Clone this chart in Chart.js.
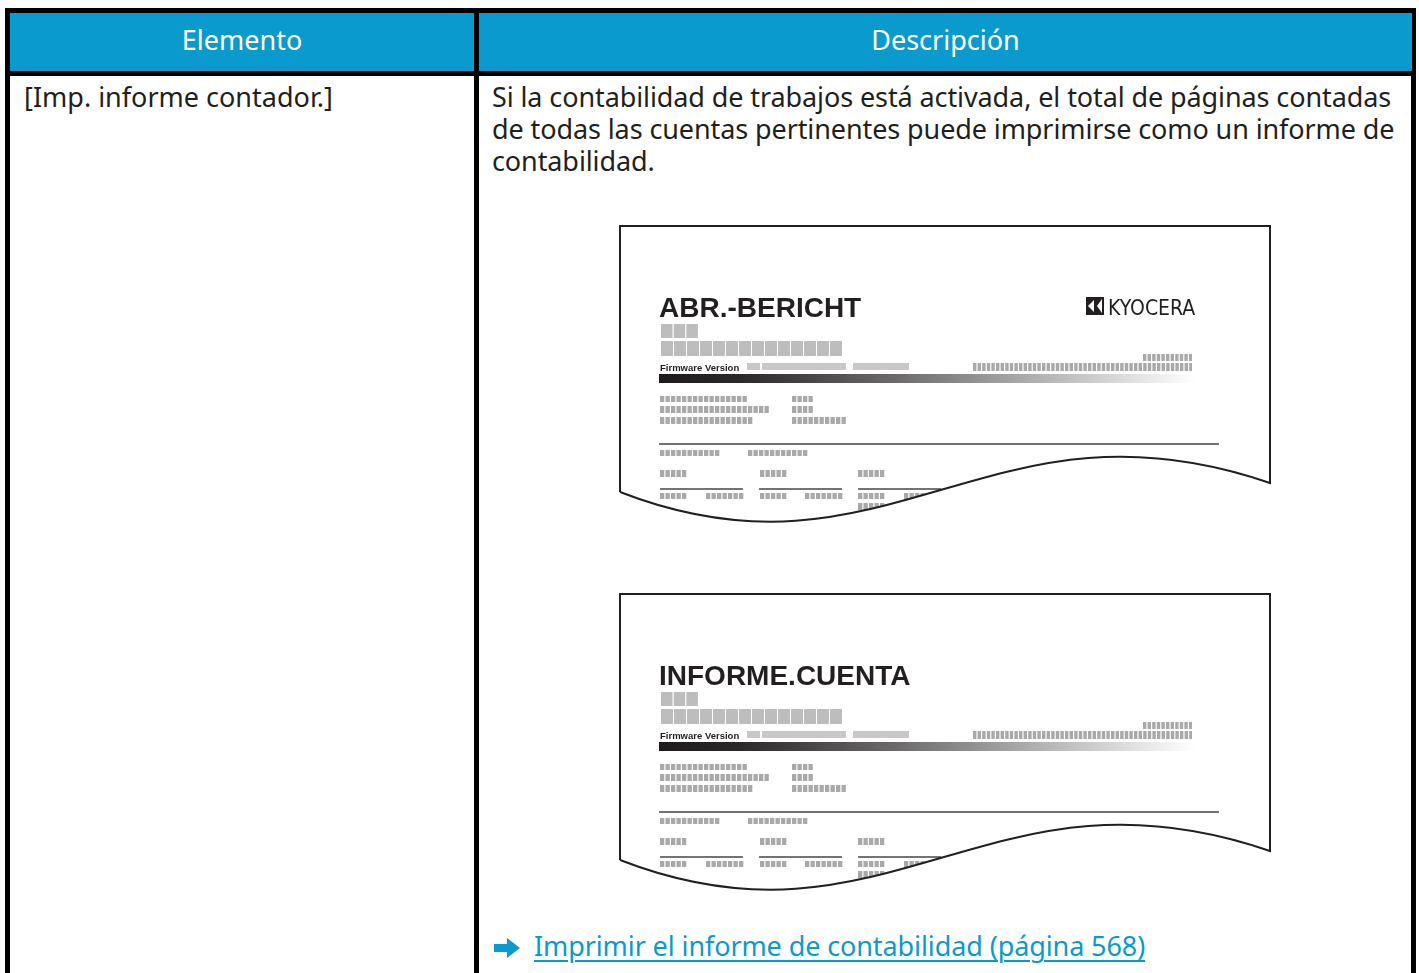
<!DOCTYPE html>
<html lang="es">
<head>
<meta charset="utf-8">
<title>Imp. informe contador</title>
<script src="https://cdn.jsdelivr.net/npm/chart.js@4.4.1/dist/chart.umd.min.js"></script>
<style>
  html, body { margin:0; padding:0; background:#fff; }
  body { width:1419px; height:973px; overflow:hidden; position:relative;
         font-family:"Noto Sans", "Open Sans", sans-serif; color:#231f20; }
  .frame { position:absolute; left:5px; top:8px; width:1401px; height:1000px;
           border:5px solid #000; border-bottom:none; }
  .divider { position:absolute; left:474px; top:8px; width:5px; height:1000px; background:#000; }
  .head { position:absolute; top:13px; height:58px; background:#0b9acd; color:#fff;
          font-size:27px; line-height:54px; text-align:center; }
  .headline { position:absolute; left:10px; top:71px; width:1402px; height:5px; background:#000; }
  .cell { position:absolute; font-size:27px; line-height:32px; }
  .link { position:absolute; left:494px; top:930px; font-size:27px; line-height:32px;
          color:#0b9acd; white-space:nowrap; }
  .link span { text-decoration:underline; text-underline-offset:4px; text-decoration-thickness:2px;
               margin-left:14px; letter-spacing:-0.1px; }
  canvas.report { position:absolute; left:600px; }
</style>
</head>
<body>
<div class="frame"></div>
<div class="divider"></div>
<div class="head" id="h0" style="left:10px;width:464px"></div>
<div class="head" id="h1" style="left:479px;width:933px"></div>
<div class="headline"></div>
<div class="cell" id="item" style="left:24px;top:81px;width:440px"></div>
<div class="cell" id="desc" style="left:492px;top:81px;width:912px;letter-spacing:-0.1px"></div>
<canvas class="report" id="report1" width="690" height="320" style="top:216px"></canvas>
<canvas class="report" id="report2" width="690" height="320" style="top:584px"></canvas>
<div class="link" id="link">
  <svg width="26" height="20" viewBox="0 0 26 20" style="vertical-align:-2px">
    <polygon points="0,6 13,6 13,0 26,10 13,20 13,14 0,14" fill="#0b9acd"/>
  </svg><span id="linkText"></span>
</div>
<script>
// Textos de la tabla
const headers      = ['Elemento', 'Descripción'];
const items        = ['[Imp. informe contador.]'];
const descriptions = ['Si la contabilidad de trabajos está activada, el total de páginas contadas de todas las cuentas pertinentes puede imprimirse como un informe de contabilidad.'];
const reportTitles = ['ABR.-BERICHT', 'INFORME.CUENTA'];
const reportLogos  = ['KYOCERA', ''];
const firmwareText = 'Firmware Version';
const linkTexts    = ['Imprimir el informe de contabilidad (página 568)'];

const PAPER_INK = '#231f20';
const GRAY      = '#bdbdbd';
const GRAY_SEG  = '#a9a9a9';

/**
 * Dibuja el "papel" del informe dentro del área del chart
 */
function paperPlugin(title, logo) {
  return {
    id: 'paper',
    afterDraw(chart) {
      const c  = chart.ctx;
      const sx = chart.scales.x, sy = chart.scales.y;
      const X = v => sx.getPixelForValue(v);
      const Y = v => sy.getPixelForValue(v);

      const paperPath = () => {
        c.beginPath();
        c.moveTo(X(0), Y(266));
        c.lineTo(X(0), Y(0));
        c.lineTo(X(650), Y(0));
        c.lineTo(X(650), Y(257));
        c.bezierCurveTo(X(369), Y(160), X(268), Y(370), X(0), Y(266));
      };

      const block = (x0, x1, y0, y1, col) => {
        c.fillStyle = col || GRAY;
        c.fillRect(X(x0), Y(y0), X(x1) - X(x0), Y(y1) - Y(y0));
      };
      // bloques segmentados (texto simulado)
      const seg = (x0, x1, y0, y1, pitch) => {
        pitch = pitch || 5.5;
        c.fillStyle = GRAY_SEG;
        for (let x = x0; x < x1 - 0.5; x += pitch) {
          const w = Math.min(pitch - 1.2, x1 - x);
          c.fillRect(X(x), Y(y0), X(x + w) - X(x), Y(y1) - Y(y0));
        }
      };
      const hline = (x0, x1, y, w) => {
        c.strokeStyle = '#4a4546'; c.lineWidth = w || 1.3;
        c.beginPath(); c.moveTo(X(x0), Y(y)); c.lineTo(X(x1), Y(y)); c.stroke();
      };

      c.save();
      paperPath();
      c.fillStyle = '#fff'; c.fill();
      c.clip();

      // Titulo
      c.fillStyle = PAPER_INK;
      c.font = 'bold 28px "Liberation Sans", Arial, sans-serif';
      c.textBaseline = 'alphabetic';
      c.fillText(title, X(39), Y(91));

      // Logo
      if (logo) {
        const lx = X(466), ly = Y(71), s = 18;
        c.fillStyle = PAPER_INK;
        c.fillRect(lx, ly, s, s);
        c.fillStyle = '#fff';
        c.beginPath();
        c.moveTo(lx + 2, ly + s / 2); c.lineTo(lx + s / 2 - 1, ly + 3); c.lineTo(lx + s / 2 - 1, ly + s - 3);
        c.closePath(); c.fill();
        c.beginPath();
        c.moveTo(lx + s / 2 + 2, ly + s / 2); c.lineTo(lx + s - 2, ly + 2); c.lineTo(lx + s - 2, ly + s - 2);
        c.closePath(); c.fill();
        c.fillStyle = PAPER_INK;
        c.font = '21px "DejaVu Sans Condensed", "DejaVu Sans", sans-serif';
        c.fillText(logo, X(488), Y(89), X(576) - X(488));
      }

      // Bloques grandes
      for (let i = 0; i < 3; i++) block(41 + i * 12.7, 41 + i * 12.7 + 11.5, 98, 112);
      for (let i = 0; i < 14; i++) block(41 + i * 13, 41 + i * 13 + 12, 115, 130);

      // Firmware Version
      c.fillStyle = PAPER_INK;
      c.font = 'bold 9.5px "Liberation Sans", Arial, sans-serif';
      c.fillText(firmwareText, X(40), Y(144.5));
      block(127, 140, 137, 144, '#c8c8c8');
      block(142, 226, 137, 144, '#c8c8c8');
      block(233, 289, 137, 144, '#c8c8c8');
      seg(523, 572, 128, 135, 4.6);
      seg(353, 572, 137, 145, 4.6);

      // Barra degradada
      const g = c.createLinearGradient(X(39), 0, X(575), 0);
      g.addColorStop(0, '#1f1b1c');
      g.addColorStop(0.15, '#2b2829');
      g.addColorStop(0.45, '#6e6c6d');
      g.addColorStop(0.75, '#bcbcbc');
      g.addColorStop(1, '#ffffff');
      c.fillStyle = g;
      c.fillRect(X(39), Y(148), X(575) - X(39), Y(157) - Y(148));

      // Filas pequeñas
      seg(40, 128, 170, 176); seg(172, 194, 170, 176);
      seg(40, 150, 180, 187); seg(172, 194, 180, 187);
      seg(40, 133, 191, 198); seg(172, 226, 191, 198);

      hline(39, 599, 218);
      seg(40, 100, 224, 230); seg(128, 188, 224, 230);
      seg(40, 68, 244, 251); seg(140, 167, 244, 251); seg(238, 266, 244, 251);
      hline(40, 123, 263); hline(139, 222, 263); hline(238, 321, 263);
      seg(40, 68, 267, 273); seg(86, 124, 267, 273);
      seg(140, 167, 267, 273); seg(185, 223, 267, 273);
      seg(238, 266, 267, 273); seg(284, 322, 267, 273);
      seg(238, 266, 277, 284);
      c.restore();

      // Contorno del papel
      c.save();
      paperPath();
      c.strokeStyle = PAPER_INK; c.lineWidth = 2; c.lineJoin = 'miter';
      c.stroke();
      c.restore();
    }
  };
}

function renderReport(canvasId, title, logo) {
  const ctx = document.getElementById(canvasId).getContext('2d');
  new Chart(ctx, {
    type: 'scatter',
    data: { datasets: [] },
    options: {
      responsive: false, animation: false, events: [],
      layout: { padding: 0 },
      plugins: { legend: { display: false }, tooltip: { enabled: false } },
      scales: {
        x: { type: 'linear', min: -20, max: 670, display: false },
        y: { type: 'linear', min: -10, max: 310, reverse: true, display: false }
      }
    },
    plugins: [paperPlugin(title, logo)]
  });
}

function fillTable() {
  document.getElementById('h0').textContent = headers[0];
  document.getElementById('h1').textContent = headers[1];
  document.getElementById('item').textContent = items[0];
  document.getElementById('desc').textContent = descriptions[0];
  document.getElementById('linkText').textContent = linkTexts[0];
}

// Inicialización
window.addEventListener('DOMContentLoaded', () => {
  fillTable();
  reportTitles.forEach((t, i) => renderReport('report' + (i + 1), t, reportLogos[i]));
});
</script>
</body>
</html>
